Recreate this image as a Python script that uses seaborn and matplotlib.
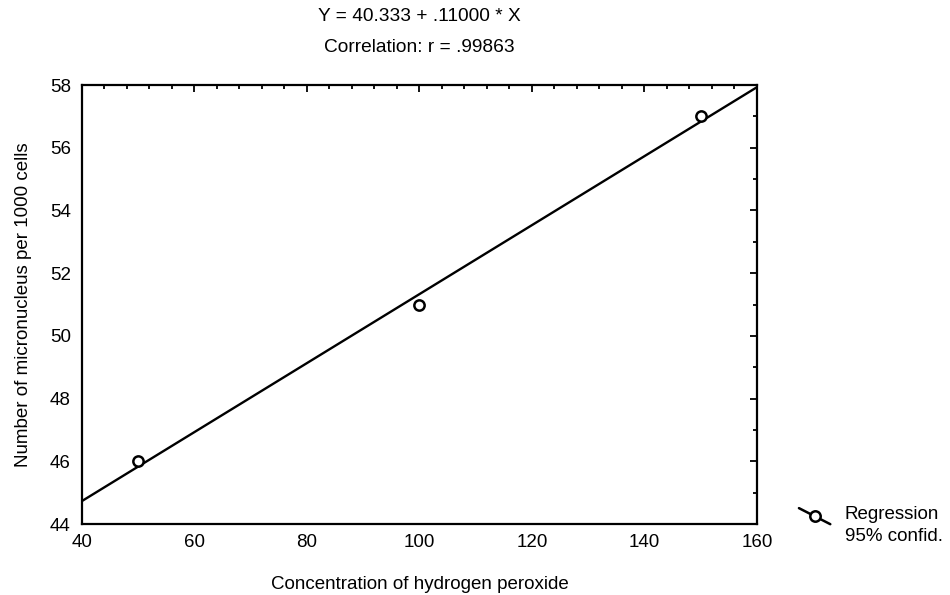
import numpy as np
import pandas as pd
import seaborn as sns
import matplotlib.pyplot as plt
from matplotlib.lines import Line2D
from matplotlib.ticker import MultipleLocator

# data
concentration = [50, 100, 150]
micronucleus = [46, 51, 57]

x_ticks = [40, 60, 80, 100, 120, 140, 160]
y_ticks = [44, 46, 48, 50, 52, 54, 56, 58]

df = pd.DataFrame({"conc": concentration, "mn": micronucleus})

sns.set_style("white")
plt.rcParams["font.family"] = ["Liberation Sans", "DejaVu Sans"]
plt.rcParams["text.color"] = "black"
plt.rcParams["axes.labelcolor"] = "black"
plt.rcParams["xtick.color"] = "black"
plt.rcParams["ytick.color"] = "black"

fig = plt.figure(figsize=(9.5, 5.95), dpi=100)
ax = fig.add_axes([0.0863, 0.1193, 0.7105, 0.7377])
ax.set_xlim(x_ticks[0], x_ticks[-1])
ax.set_ylim(y_ticks[0], y_ticks[-1])

sns.regplot(data=df, x="conc", y="mn", ax=ax, ci=None, truncate=False,
            color="black", marker="o",
            scatter_kws=dict(s=55, facecolors="white", edgecolors="black",
                             linewidths=1.8, alpha=1, zorder=3),
            line_kws=dict(color="black", lw=1.7, zorder=2))

ax.set_xlim(x_ticks[0], x_ticks[-1])
ax.set_ylim(y_ticks[0], y_ticks[-1])
ax.set_xticks(x_ticks)
ax.set_yticks(y_ticks)
ax.xaxis.set_minor_locator(MultipleLocator(4))
ax.yaxis.set_minor_locator(MultipleLocator(1))
ax.tick_params(which="both", direction="in", top=True, right=True,
               color="black", width=1.3, labelsize=13.5)
ax.tick_params(which="major", length=5)
ax.tick_params(axis="x", which="major", pad=7)
ax.tick_params(axis="y", which="major", pad=8)
ax.tick_params(which="minor", length=3)
for sp in ax.spines.values():
    sp.set_color("black")
    sp.set_linewidth(1.6)

ax.set_xlabel("Concentration of hydrogen peroxide", fontsize=13.5, labelpad=18)
ax.set_ylabel("Number of micronucleus per 1000 cells", fontsize=13.5, labelpad=13)

# header text
fig.text(0.4416, 0.972, "Y = 40.333 + .11000 * X", ha="center", va="center", fontsize=13.8)
fig.text(0.4416, 0.921, "Correlation: r = .99863", ha="center", va="center", fontsize=13.8)

# legend entry
fig.add_artist(Line2D([0.841, 0.874], [0.146, 0.119], transform=fig.transFigure,
                      color="black", lw=1.8))
fig.add_artist(Line2D([0.858], [0.1325], transform=fig.transFigure, marker="o",
                      markersize=7.5, markerfacecolor="white", markeredgecolor="black",
                      markeredgewidth=1.8, linestyle="none"))
fig.text(0.889, 0.136, "Regression", ha="left", va="center", fontsize=13.5)
fig.text(0.889, 0.0975, "95% confid.", ha="left", va="center", fontsize=13.5)

plt.savefig("out.png", dpi=100)
